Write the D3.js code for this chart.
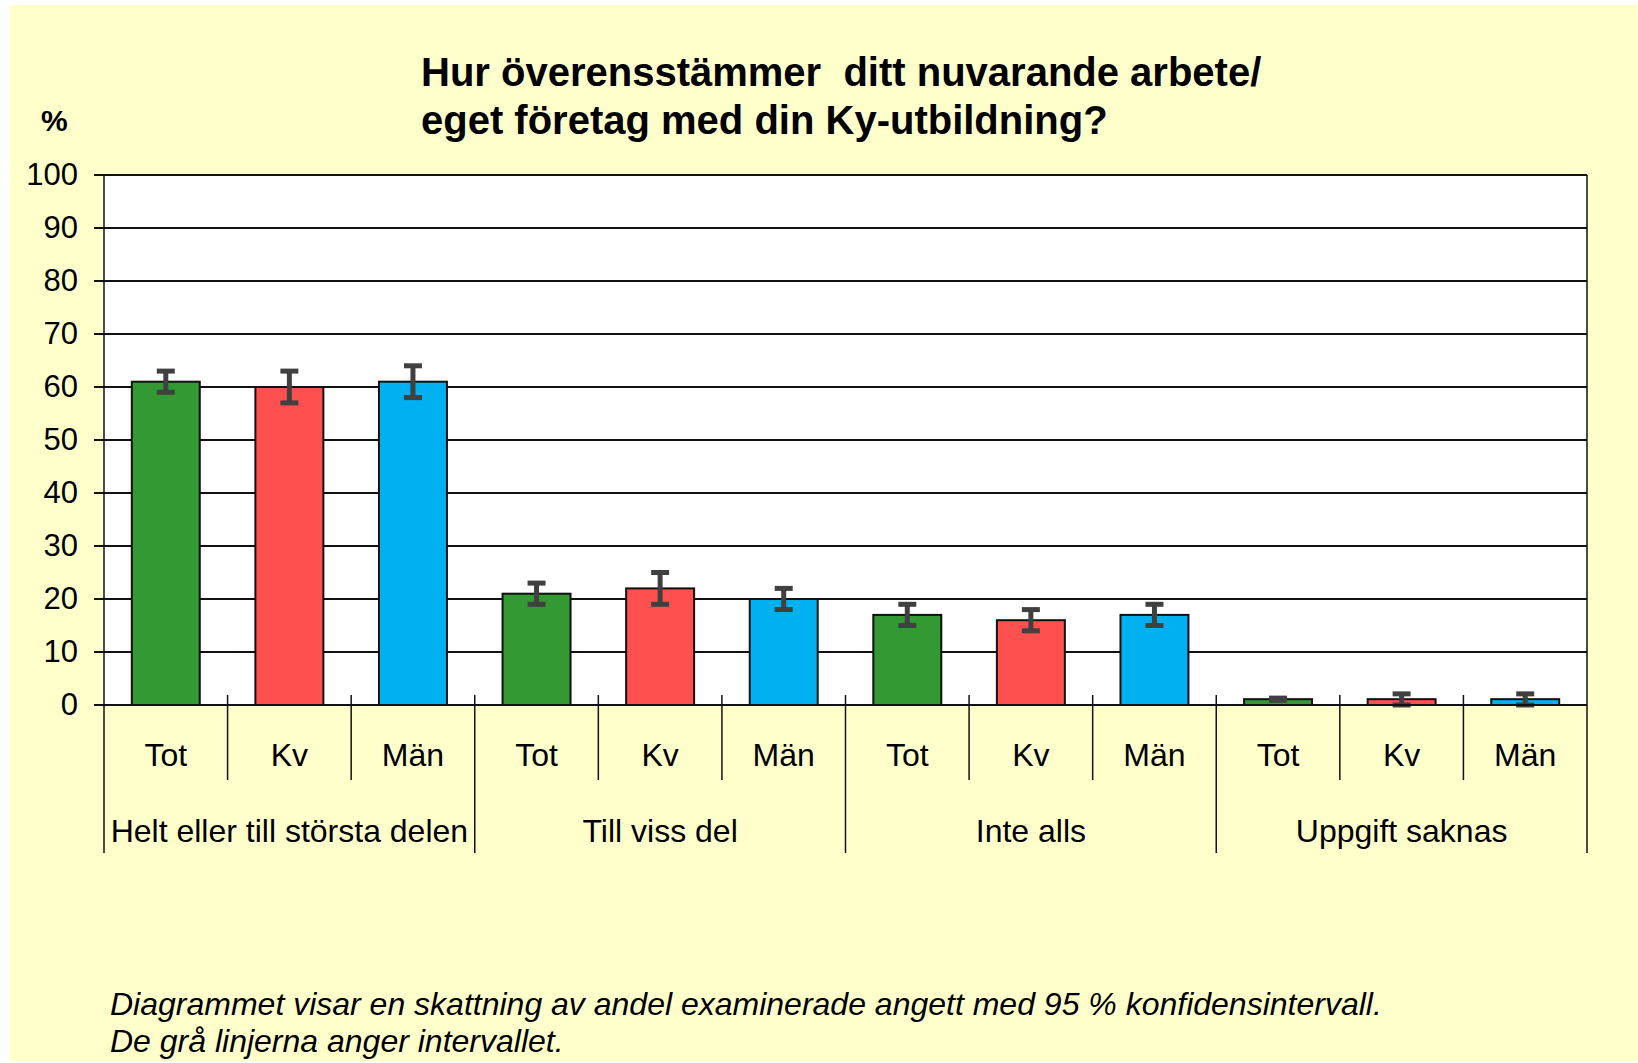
<!DOCTYPE html>
<html>
<head>
<meta charset="utf-8">
<script src="https://cdn.jsdelivr.net/npm/d3@7"></script>
<style>
    body { margin: 0; background: #fff; }
    svg { display: block; font-family: "Liberation Sans", Arial, sans-serif; }
</style>
</head>
<body>
<div id="chart"></div>
<script>
"use strict";

// data
const groups = ["Helt eller till största delen", "Till viss del", "Inte alls", "Uppgift saknas"];
const series = ["Tot", "Kv", "Män"];
const colors = ["#339933", "#FF5050", "#00B0F0"];

const totValues = [61, 21, 17, 1.1];
const totLow = [59, 19, 15, 0.9];
const totHigh = [63, 23, 19, 1.3];

const kvValues = [60, 22, 16, 1.1];
const kvLow = [57, 19, 14, 0];
const kvHigh = [63, 25, 18, 2.1];

const manValues = [61, 20, 17, 1.1];
const manLow = [58, 18, 15, 0];
const manHigh = [64, 22, 19, 2.1];

const yTicks = [0, 10, 20, 30, 40, 50, 60, 70, 80, 90, 100];

const titleLines = ["Hur överensstämmer  ditt nuvarande arbete/", "eget företag med din Ky-utbildning?"];
const noteLines = [
    "Diagrammet visar en skattning av andel examinerade angett med 95 % konfidensintervall.",
    "De grå linjerna anger intervallet."
];

(function () {
    const width = 1638;
    const height = 1063;
    const plot = { left: 104, right: 1587, top: 175, bottom: 705 };

    const svg = d3.select("#chart")
        .append("svg")
        .attr("width", width)
        .attr("height", height);

    svg.append("rect")
        .attr("x", 10).attr("y", 5)
        .attr("width", width - 10).attr("height", height - 7)
        .attr("fill", "#FFFFCC");

    const seriesData = [
        { name: "Tot", values: totValues, low: totLow, high: totHigh },
        { name: "Kv", values: kvValues, low: kvLow, high: kvHigh },
        { name: "Män", values: manValues, low: manLow, high: manHigh }
    ];

    const x0 = d3.scaleBand().domain(groups).range([plot.left, plot.right]).padding(0);
    const x1 = d3.scaleBand().domain(series).range([0, x0.bandwidth()]).padding(0);
    const y = d3.scaleLinear().domain([0, 100]).range([plot.bottom, plot.top]);
    const barW = x1.bandwidth() * 0.55;

    // plot area
    svg.append("rect")
        .attr("x", plot.left).attr("y", plot.top)
        .attr("width", plot.right - plot.left).attr("height", plot.bottom - plot.top)
        .attr("fill", "#fff");

    // gridlines
    svg.append("g")
        .selectAll("line")
        .data(yTicks)
        .join("line")
        .attr("x1", plot.left - 10).attr("x2", plot.right)
        .attr("y1", d => y(d)).attr("y2", d => y(d))
        .attr("stroke", "#111").attr("stroke-width", 2);

    // y axis labels
    const yAxis = svg.append("g")
        .attr("transform", `translate(${plot.left},0)`)
        .call(d3.axisLeft(y).tickValues(yTicks).tickSize(10).tickPadding(16));
    yAxis.select(".domain").remove();
    yAxis.selectAll("line").remove();
    yAxis.selectAll("text")
        .attr("font-size", 31)
        .attr("font-family", "Liberation Sans, Arial, sans-serif")
        .attr("fill", "#000");

    // bars
    const flat = [];
    seriesData.forEach((s, si) => {
        groups.forEach((g, gi) => {
            flat.push({ group: g, series: s.name, si: si, value: s.values[gi], low: s.low[gi], high: s.high[gi] });
        });
    });

    const cx = d => x0(d.group) + x1(d.series) + x1.bandwidth() / 2;

    svg.append("g")
        .selectAll("rect")
        .data(flat)
        .join("rect")
        .attr("x", d => cx(d) - barW / 2)
        .attr("y", d => y(d.value))
        .attr("width", barW)
        .attr("height", d => y(0) - y(d.value))
        .attr("fill", d => colors[d.si])
        .attr("stroke", "#111")
        .attr("stroke-width", 2);

    // error bars
    const err = svg.append("g").attr("stroke", "#404040");
    err.selectAll("line.stem")
        .data(flat)
        .join("line")
        .attr("class", "stem")
        .attr("x1", cx).attr("x2", cx)
        .attr("y1", d => y(d.low)).attr("y2", d => y(d.high))
        .attr("stroke-width", 5);
    err.selectAll("line.cap")
        .data(flat.flatMap(d => [{ d: d, v: d.low }, { d: d, v: d.high }]))
        .join("line")
        .attr("class", "cap")
        .attr("x1", e => cx(e.d) - 9).attr("x2", e => cx(e.d) + 9)
        .attr("y1", e => y(e.v)).attr("y2", e => y(e.v))
        .attr("stroke-width", 5);

    // axes lines
    svg.append("line")
        .attr("x1", plot.left).attr("x2", plot.right)
        .attr("y1", y(0)).attr("y2", y(0))
        .attr("stroke", "#111").attr("stroke-width", 2);

    // separators between categories
    const minorX = [];
    groups.forEach(g => {
        series.forEach((s, i) => { if (i > 0) minorX.push(x0(g) + x1(s)); });
    });
    svg.append("g")
        .selectAll("line")
        .data(minorX)
        .join("line")
        .attr("x1", d => d).attr("x2", d => d)
        .attr("y1", y(0) - 10).attr("y2", 780)
        .attr("stroke", "#111").attr("stroke-width", 1.5);

    const groupX = groups.map(g => x0(g)).concat([plot.right]);
    svg.append("g")
        .selectAll("line")
        .data(groupX)
        .join("line")
        .attr("x1", d => d).attr("x2", d => d)
        .attr("y1", (d, i) => (i === 0 || i === groupX.length - 1) ? plot.top : y(0) - 10)
        .attr("y2", 853)
        .attr("stroke", "#111").attr("stroke-width", 1.5);

    // category labels
    svg.append("g")
        .selectAll("text")
        .data(flat)
        .join("text")
        .attr("x", cx)
        .attr("y", 766)
        .attr("text-anchor", "middle")
        .attr("font-size", 32)
        .text(d => d.series);

    svg.append("g")
        .selectAll("text")
        .data(groups)
        .join("text")
        .attr("x", g => x0(g) + x0.bandwidth() / 2)
        .attr("y", 842)
        .attr("text-anchor", "middle")
        .attr("font-size", 32)
        .text(g => g);

    // title
    svg.append("g")
        .selectAll("text")
        .data(titleLines)
        .join("text")
        .attr("x", 421)
        .attr("y", (d, i) => 86 + i * 48)
        .attr("font-size", 40)
        .attr("font-weight", "bold")
        .style("white-space", "pre")
        .text(d => d);

    svg.append("text")
        .attr("x", 41).attr("y", 131)
        .attr("font-size", 30)
        .attr("font-weight", "bold")
        .text("%");

    // note
    svg.append("g")
        .selectAll("text")
        .data(noteLines)
        .join("text")
        .attr("x", 110)
        .attr("y", (d, i) => 1015 + i * 37)
        .attr("font-size", 32)
        .attr("font-style", "italic")
        .text(d => d);
})();
</script>
</body>
</html>
